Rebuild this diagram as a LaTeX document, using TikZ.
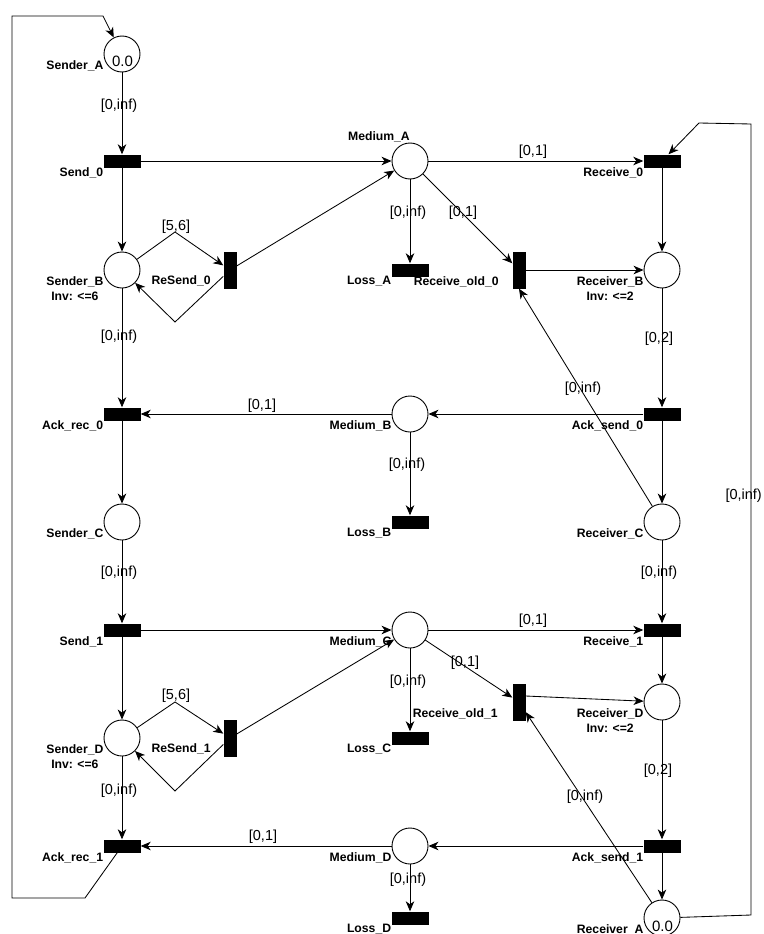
\documentclass[tikz,border=0pt]{standalone}
\usepackage{fontspec}
\setmainfont{Liberation Sans}
\usetikzlibrary{arrows.meta}
\begin{document}
\begin{tikzpicture}[x=1pt,y=-1pt,
  place/.style={circle, draw, line width=0.9pt, minimum size=36pt, inner sep=0pt},
  htr/.style={rectangle, fill=black, minimum width=37pt, minimum height=13pt, inner sep=0pt},
  vtr/.style={rectangle, fill=black, minimum width=13pt, minimum height=37pt, inner sep=0pt},
  arc/.style={draw, line width=0.85pt, -{Stealth[length=10pt,width=8.5pt,inset=3pt]}},
  nl/.style={font=\bfseries\fontsize{12.2}{15}\selectfont, inner sep=0pt, anchor=north east, align=center},
  el/.style={font=\fontsize{14.5}{17}\selectfont, inner sep=0pt},
  tok/.style={font=\fontsize{15}{18}\selectfont, inner sep=0pt}]
\useasboundingbox (0,0) rectangle (763,934);

% places
\node[place] (SA) at (122,54) {};
\node[place] (SB) at (122,270) {};
\node[place] (SC) at (122,522) {};
\node[place] (SD) at (122,738) {};
\node[place] (MA) at (410,161) {};
\node[place] (MB) at (410,414) {};
\node[place] (MC) at (410,630) {};
\node[place] (MD) at (410,846) {};
\node[place] (RB) at (662,270) {};
\node[place] (RC) at (662,522) {};
\node[place] (RD) at (662,702) {};
\node[place] (RA) at (662,918) {};
\node[tok] (tSA) at (122.5,61.5) {0.0};
\node[tok] (tRA) at (662.5,926) {0.0};

% transitions
\node[htr] (S0) at (122,161) {};
\node[htr] (AR0) at (122,414) {};
\node[htr] (S1) at (122,630) {};
\node[htr] (AR1) at (122,846) {};
\node[htr] (R0) at (662,161) {};
\node[htr] (AS0) at (662,414) {};
\node[htr] (R1) at (662,630) {};
\node[htr] (AS1) at (662,846) {};
\node[htr] (LA) at (410,270) {};
\node[htr] (LB) at (410,522) {};
\node[htr] (LC) at (410,738) {};
\node[htr] (LD) at (410,918) {};
\node[vtr] (RS0) at (230,270) {};
\node[vtr] (RS1) at (230,738) {};
\node[vtr] (RO0) at (519,270) {};
\node[vtr] (RO1) at (519,702) {};

% node labels
\node[nl] (lSA) at ([shift={(0,6)}]SA.west) {Sender\_A};
\node[nl] (lSB) at ([shift={(0,6)}]SB.west) {Sender\_B\\Inv: <=6};
\node[nl] (lSC) at ([shift={(0,6)}]SC.west) {Sender\_C};
\node[nl] (lSD) at ([shift={(0,6)}]SD.west) {Sender\_D\\Inv: <=6};
\node[nl, anchor=base east] (lMA) at (410,140) {Medium\_A};
\node[nl] (lMB) at ([shift={(0,6)}]MB.west) {Medium\_B};
\node[nl] (lMC) at ([shift={(0,6)}]MC.west) {Medium\_C};
\node[nl] (lMD) at ([shift={(0,6)}]MD.west) {Medium\_D};
\node[nl] (lRB) at ([shift={(0,6)}]RB.west) {Receiver\_B\\Inv: <=2};
\node[nl] (lRC) at ([shift={(0,6)}]RC.west) {Receiver\_C};
\node[nl] (lRD) at ([shift={(0,6)}]RD.west) {Receiver\_D\\Inv: <=2};
\node[nl] (lRA) at ([shift={(0,6)}]RA.west) {Receiver\_A};
\node[nl] (lS0) at ([shift={(0,6)}]S0.west) {Send\_0};
\node[nl] (lAR0) at ([shift={(0,6)}]AR0.west) {Ack\_rec\_0};
\node[nl] (lS1) at ([shift={(0,6)}]S1.west) {Send\_1};
\node[nl] (lAR1) at ([shift={(0,6)}]AR1.west) {Ack\_rec\_1};
\node[nl] (lR0) at ([shift={(0,6)}]R0.west) {Receive\_0};
\node[nl] (lAS0) at ([shift={(0,6)}]AS0.west) {Ack\_send\_0};
\node[nl] (lR1) at ([shift={(0,6)}]R1.west) {Receive\_1};
\node[nl] (lAS1) at ([shift={(0,6)}]AS1.west) {Ack\_send\_1};
\node[nl] (lLA) at ([shift={(0,6)}]LA.west) {Loss\_A};
\node[nl] (lLB) at ([shift={(0,6)}]LB.west) {Loss\_B};
\node[nl] (lLC) at ([shift={(0,6)}]LC.west) {Loss\_C};
\node[nl] (lLD) at ([shift={(0,6)}]LD.west) {Loss\_D};
\node[nl] (lRS0) at ([shift={(-12.5,5)}]RS0.west) {ReSend\_0};
\node[nl] (lRS1) at ([shift={(-12.5,5)}]RS1.west) {ReSend\_1};
\node[nl] (lRO0) at ([shift={(-13.5,6)}]RO0.west) {Receive\_old\_0};
\node[nl] (lRO1) at ([shift={(-14.5,6)}]RO1.west) {Receive\_old\_1};

% arcs, first half
\draw[arc] (SA) -- (S0);
\draw[arc] (S0) -- (SB);
\draw[arc] (S0) -- (MA);
\draw[arc] (SB) -- (175,232) -- (RS0);
\draw[arc] (RS0) -- (175,322) -- (SB);
\draw[arc] (RS0) -- (MA);
\draw[arc] (MA) -- (R0);
\draw[arc] (MA) -- (LA);
\draw[arc] (MA) -- (RO0);
\draw[arc] (RO0) -- (RB);
\draw[arc] (R0) -- (RB);
\draw[arc] (RB) -- (AS0);
\draw[arc] (SB) -- (AR0);
\draw[arc] (AS0) -- (MB);
\draw[arc] (MB) -- (AR0);
\draw[arc] (MB) -- (LB);
\draw[arc] (AR0) -- (SC);
\draw[arc] (AS0) -- (RC);
\draw[arc] (RC) -- (RO0.south);
\draw[arc] (SC) -- (S1);
\draw[arc] (RC) -- (R1);
% second half
\draw[arc] (S1) -- (SD);
\draw[arc] (S1) -- (MC);
\draw[arc] (SD) -- (175,702) -- (RS1);
\draw[arc] (RS1) -- (175,791) -- (SD);
\draw[arc] (RS1) -- (MC);
\draw[arc] (MC) -- (R1);
\draw[arc] (MC) -- (LC);
\draw[arc] (MC) -- (RO1);
\draw[arc] ([yshift=6pt]RO1.east) -- (RD);
\draw[arc] (R1) -- (RD);
\draw[arc] (RD) -- (AS1);
\draw[arc] (SD) -- (AR1);
\draw[arc] (AS1) -- (MD);
\draw[arc] (MD) -- (AR1);
\draw[arc] (MD) -- (LD);
\draw[arc] (AS1) -- (RA);
\draw[arc] (RA) -- (RO1);
% loops
\draw[arc] (RA) -- (751,915) -- (751,124) -- (699,123) -- (R0);
\draw[arc] (AR1) -- (85,898) -- (12,898) -- (12,16) -- (103,16) -- (SA);

% arc labels
\node[el] (e1) at (119,106) {[0,inf)};
\node[el] (e2) at (176,227) {[5,6]};
\node[el] (e3) at (533,152) {[0,1]};
\node[el] (e4) at (408,213) {[0,inf)};
\node[el] (e5) at (463,213) {[0,1]};
\node[el] (e6) at (659,339) {[0,2]};
\node[el] (e7) at (119,337) {[0,inf)};
\node[el] (e8) at (262,406) {[0,1]};
\node[el] (e9) at (407,465) {[0,inf)};
\node[el] (e10) at (583,389) {[0,inf)};
\node[el] (e11) at (119,573) {[0,inf)};
\node[el] (e12) at (659,573) {[0,inf)};
\node[el, anchor=east] (e13) at (762,496) {[0,inf)};
\node[el] (e14) at (533,621) {[0,1]};
\node[el] (e15) at (408,682) {[0,inf)};
\node[el] (e16) at (465,663) {[0,1]};
\node[el] (e17) at (176,696) {[5,6]};
\node[el] (e18) at (119,791) {[0,inf)};
\node[el] (e19) at (263,837) {[0,1]};
\node[el] (e20) at (408,880) {[0,inf)};
\node[el] (e21) at (658,771) {[0,2]};
\node[el] (e22) at (585,797) {[0,inf)};
\end{tikzpicture}
\end{document}
